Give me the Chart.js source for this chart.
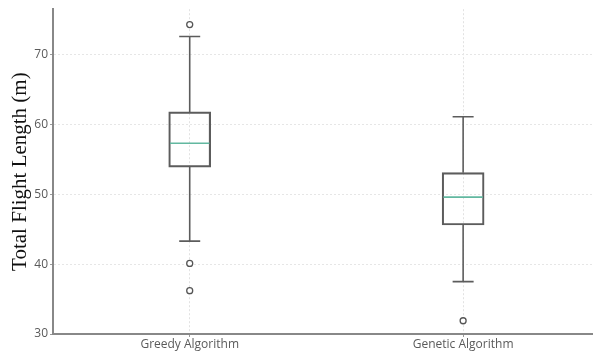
<!DOCTYPE html>
<html>
<head>
<meta charset="utf-8">
<script src="https://cdn.jsdelivr.net/npm/chart.js@4.4.0/dist/chart.umd.min.js"></script>
<style>
  html, body { margin: 0; padding: 0; background: #fff; }
  #wrap { width: 593px; height: 353px; }
</style>
</head>
<body>
<div id="wrap"><canvas id="c" width="593" height="353"></canvas></div>
<script>
// ---- data ----
const categories = ['Greedy Algorithm', 'Genetic Algorithm'];
const positions = [1, 2];
const q1Values = [53.9, 45.6];
const medianValues = [57.3, 49.6];
const q3Values = [61.8, 53.1];
const whiskerLow = [43.3, 37.5];
const whiskerHigh = [72.6, 61.1];
const outliers = [[74.3, 40.1, 36.2], [31.9]];
const yTickValues = [30, 40, 50, 60, 70];

const boxColor = '#5c5c5c';
const medianColor = '#62b8a0';

const datasets = [];
// boxes (floating bars)
datasets.push({
  type: 'bar',
  data: positions.map((p, i) => ({ x: p, y: [q1Values[i], q3Values[i]] })),
  backgroundColor: 'rgba(255,255,255,0)',
  borderColor: boxColor,
  borderWidth: 1.5,
  borderSkipped: false,
  barThickness: 42,
  order: 2
});
// whiskers (vertical lines)
const whiskerPts = [];
positions.forEach((p, i) => {
  whiskerPts.push({ x: p, y: q3Values[i] }, { x: p, y: whiskerHigh[i] }, { x: p, y: null });
  whiskerPts.push({ x: p, y: q1Values[i] }, { x: p, y: whiskerLow[i] }, { x: p, y: null });
});
datasets.push({
  type: 'line',
  data: whiskerPts,
  borderColor: boxColor,
  borderWidth: 1.6,
  pointRadius: 0,
  spanGaps: false,
  order: 3
});
// caps
datasets.push({
  type: 'scatter',
  data: positions.flatMap((p, i) => [{ x: p, y: whiskerHigh[i] }, { x: p, y: whiskerLow[i] }]),
  pointStyle: 'line',
  pointRadius: 10.5,
  pointBorderColor: boxColor,
  pointBorderWidth: 1.6,
  order: 1
});
// medians
datasets.push({
  type: 'scatter',
  data: positions.map((p, i) => ({ x: p, y: medianValues[i] })),
  pointStyle: 'line',
  pointRadius: 19.7,
  pointBorderColor: medianColor,
  pointBorderWidth: 1.6,
  order: 0
});
// outliers
datasets.push({
  type: 'scatter',
  data: positions.flatMap((p, i) => outliers[i].map(v => ({ x: p, y: v }))),
  pointStyle: 'circle',
  pointRadius: 3,
  pointBackgroundColor: '#ffffff',
  pointBorderColor: '#555555',
  pointBorderWidth: 1.3,
  order: 0
});

new Chart(document.getElementById('c'), {
  data: { datasets },
  options: {
    responsive: false,
    animation: false,
    layout: { autoPadding: false, padding: { top: 6, right: 0, left: 0, bottom: 0 } },
    plugins: { legend: { display: false }, tooltip: { enabled: false } },
    scales: {
      x: {
        type: 'linear',
        offset: false,
        min: 0.5,
        max: 2.475,
        afterBuildTicks: (axis) => { axis.ticks = positions.map(v => ({ value: v })); },
        afterFit: (axis) => { axis.height = 19; },
        ticks: {
          callback: (v) => categories[positions.indexOf(v)] || '',
          color: '#5a5a5a',
          font: { family: 'Open Sans', size: 12 },
          padding: 0,
          maxRotation: 0,
          autoSkip: false
        },
        grid: { offset: false, color: '#e2e2e2', lineWidth: 1, tickLength: 3, tickColor: '#999' },
        border: { color: '#888', width: 2, dash: [2, 2] }
      },
      y: {
        type: 'linear',
        min: 30,
        max: 76.5,
        afterBuildTicks: (axis) => { axis.ticks = yTickValues.map(v => ({ value: v })); },
        afterFit: (axis) => { axis.width = 53; },
        ticks: {
          color: '#5a5a5a',
          font: { family: 'Open Sans', size: 12 },
          padding: 2
        },
        grid: { color: '#e6e6e6', lineWidth: 1, tickLength: 3, tickColor: '#999' },
        border: { color: '#888', width: 2, dash: [2, 2] },
        title: {
          display: true,
          text: 'Total Flight Length (m)',
          color: '#111',
          font: { family: 'Liberation Serif', size: 21 },
          padding: { top: 8, bottom: 0 }
        }
      }
    }
  }
});
</script>
</body>
</html>
